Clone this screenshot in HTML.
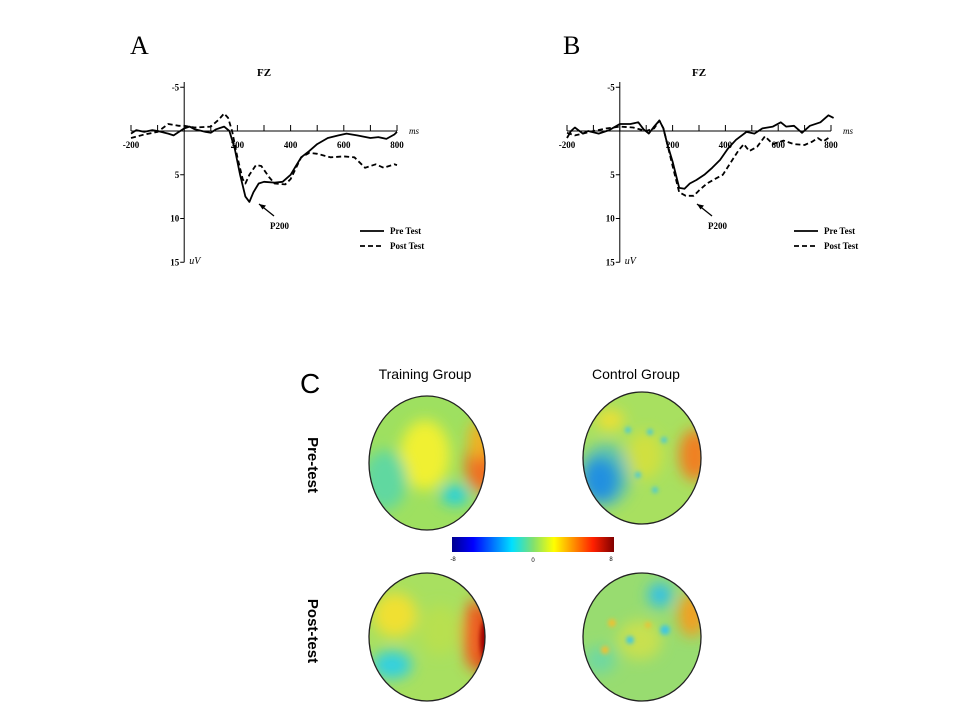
<!DOCTYPE html>
<html><head><meta charset="utf-8"><style>
html,body{margin:0;padding:0;background:#fff;width:960px;height:720px;overflow:hidden}
svg{display:block}
.s{font-family:"Liberation Serif",serif;fill:#000}
.a{font-family:"Liberation Sans","DejaVu Sans",sans-serif;fill:#000}
</style></head><body>
<svg id="v" width="960" height="720" xmlns="http://www.w3.org/2000/svg">
<defs>
<filter id="bl" x="-50%" y="-50%" width="200%" height="200%"><feGaussianBlur stdDeviation="7"/></filter>
<filter id="bs" x="-50%" y="-50%" width="200%" height="200%"><feGaussianBlur stdDeviation="2"/></filter>
<linearGradient id="cb" x1="0" x2="1">
<stop offset="0" stop-color="#00008f"/><stop offset="0.13" stop-color="#0000ff"/><stop offset="0.37" stop-color="#00e0ff"/><stop offset="0.5" stop-color="#80e070"/><stop offset="0.63" stop-color="#ffff00"/><stop offset="0.87" stop-color="#ff2000"/><stop offset="1" stop-color="#800000"/>
</linearGradient>
<clipPath id="c1"><ellipse cx="427" cy="463" rx="58" ry="67"/></clipPath>
<clipPath id="c2"><ellipse cx="642" cy="458" rx="59" ry="66"/></clipPath>
<clipPath id="c3"><ellipse cx="427" cy="637" rx="58" ry="64"/></clipPath>
<clipPath id="c4"><ellipse cx="642" cy="637" rx="59" ry="64"/></clipPath>
</defs>
<text x="130" y="54" class="s" font-size="26">A</text>
<text x="563" y="54" class="s" font-size="26">B</text>
<g id="pa"></g><g id="pb"></g>

<text x="300" y="393" class="a" font-size="28">C</text>
<text x="425" y="379" class="a" font-size="14" text-anchor="middle">Training Group</text>
<text x="636" y="379" class="a" font-size="14" text-anchor="middle">Control Group</text>
<text transform="translate(308,465) rotate(90)" class="a" font-size="15" font-weight="bold" text-anchor="middle">Pre-test</text>
<text transform="translate(308,631) rotate(90)" class="a" font-size="15" font-weight="bold" text-anchor="middle">Post-test</text>

<g clip-path="url(#c1)">
<rect x="360" y="390" width="140" height="150" fill="#9ee060"/>
<g filter="url(#bl)">
<ellipse cx="425" cy="455" rx="25" ry="35" fill="#f0f030"/>
<ellipse cx="483" cy="465" rx="18" ry="28" fill="#f07020"/>
<ellipse cx="480" cy="440" rx="12" ry="20" fill="#f0b020"/>
<ellipse cx="385" cy="480" rx="22" ry="30" fill="#60d8a0"/>
<ellipse cx="455" cy="495" rx="14" ry="10" fill="#20d0e0"/>
</g>
</g>
<ellipse cx="427" cy="463" rx="58" ry="67" fill="none" stroke="#222" stroke-width="1.3"/>

<g clip-path="url(#c2)">
<rect x="575" y="385" width="140" height="150" fill="#a8e060"/>
<g filter="url(#bl)">
<ellipse cx="600" cy="480" rx="18" ry="22" fill="#1060e0"/>
<ellipse cx="605" cy="475" rx="26" ry="32" fill="#30b0e0" opacity="0.6"/>
<ellipse cx="695" cy="455" rx="16" ry="26" fill="#f08020"/>
<ellipse cx="610" cy="420" rx="14" ry="10" fill="#f0e030"/>
<ellipse cx="645" cy="455" rx="18" ry="24" fill="#d0e040"/>
</g>
<g filter="url(#bs)" fill="#40c8e0">
<circle cx="628" cy="430" r="3"/><circle cx="650" cy="432" r="3"/><circle cx="664" cy="440" r="3"/><circle cx="638" cy="475" r="3"/><circle cx="655" cy="490" r="3"/>
</g>
</g>
<ellipse cx="642" cy="458" rx="59" ry="66" fill="none" stroke="#222" stroke-width="1.3"/>

<rect x="452" y="537" width="162" height="15" fill="url(#cb)"/>
<text x="453" y="561" class="a" font-size="6" text-anchor="middle">-8</text>
<text x="533" y="562" class="a" font-size="6" text-anchor="middle">0</text>
<text x="611" y="561" class="a" font-size="6" text-anchor="middle">8</text>

<g clip-path="url(#c3)">
<rect x="360" y="570" width="140" height="140" fill="#a8e060"/>
<g filter="url(#bl)">
<ellipse cx="485" cy="640" rx="14" ry="32" fill="#b01000"/>
<ellipse cx="475" cy="635" rx="12" ry="36" fill="#f06020"/>
<ellipse cx="395" cy="615" rx="22" ry="22" fill="#f0e030"/>
<ellipse cx="392" cy="665" rx="20" ry="14" fill="#30d0e0"/>
<ellipse cx="440" cy="630" rx="20" ry="25" fill="#b8e050"/>
</g>
<ellipse cx="486" cy="640" rx="6" ry="20" fill="#a00000" filter="url(#bs)"/>
</g>
<ellipse cx="427" cy="637" rx="58" ry="64" fill="none" stroke="#222" stroke-width="1.3"/>

<g clip-path="url(#c4)">
<rect x="575" y="570" width="140" height="140" fill="#98dc70"/>
<g filter="url(#bl)">
<ellipse cx="692" cy="615" rx="14" ry="22" fill="#f0a020"/>
<ellipse cx="660" cy="595" rx="12" ry="12" fill="#30c0e8"/>
<ellipse cx="600" cy="660" rx="16" ry="14" fill="#70d8a0"/>
<ellipse cx="640" cy="640" rx="22" ry="20" fill="#c8e050"/>
</g>
<g filter="url(#bs)">
<circle cx="612" cy="623" r="4" fill="#f0c030"/><circle cx="630" cy="640" r="4" fill="#40c8e0"/><circle cx="665" cy="630" r="5" fill="#40c8e0"/><circle cx="605" cy="650" r="4" fill="#f0c030"/><circle cx="648" cy="625" r="3" fill="#f0c030"/>
</g>
</g>
<ellipse cx="642" cy="637" rx="59" ry="64" fill="none" stroke="#222" stroke-width="1.3"/>
</svg>
<script>
var NS="http://www.w3.org/2000/svg";
function el(p,t,a,txt){var e=document.createElementNS(NS,t);for(var k in a)e.setAttribute(k,a[k]);if(txt!==undefined)e.textContent=txt;p.appendChild(e);return e;}
function panel(id,ax,x0,x1,pre,post,lx,p200){
 var g=document.getElementById(id);var y0=131,k=8.75;
 var X=function(ms){return x0+(ms+200)/1000*(x1-x0)};var Y=function(u){return y0+u*k};
 var cx=X(0);
 el(g,"text",{x:X(300),y:76,"class":"s","font-size":11,"font-weight":"bold","text-anchor":"middle"},"FZ");
 el(g,"line",{x1:cx,y1:82,x2:cx,y2:Y(15),stroke:"#000","stroke-width":1});
 el(g,"line",{x1:x0,y1:y0,x2:x1,y2:y0,stroke:"#000","stroke-width":1});
 for(var m=-200;m<=800;m+=100){el(g,"line",{x1:X(m),y1:y0-6,x2:X(m),y2:y0,stroke:"#000","stroke-width":1});}
 [-5,5,10,15].forEach(function(u){el(g,"line",{x1:cx-4,y1:Y(u),x2:cx,y2:Y(u),stroke:"#000"});
  el(g,"text",{x:cx-5,y:Y(u)+3,"class":"s","font-size":9,"text-anchor":"end","font-weight":"bold"},u);});
 [-200,200,400,600,800].forEach(function(m){el(g,"text",{x:X(m),y:148,"class":"s","font-size":9,"text-anchor":"middle","font-weight":"bold"},m);});
 el(g,"text",{x:x1+12,y:134,"class":"s","font-size":9,"font-style":"italic"},"ms");
 el(g,"text",{x:cx+5,y:264,"class":"s","font-size":10,"font-style":"italic"},"uV");
 function path(d,dash){var s="";d.forEach(function(p,i){s+=(i?"L":"M")+X(p[0]).toFixed(1)+","+Y(p[1]).toFixed(1);});
  var a={d:s,fill:"none",stroke:"#000","stroke-width":1.8,"stroke-linejoin":"round"};if(dash)a["stroke-dasharray"]="5,3";el(g,"path",a);}
 path(pre,false);path(post,true);
 el(g,"line",{x1:lx,y1:231,x2:lx+24,y2:231,stroke:"#000","stroke-width":1.8});
 el(g,"line",{x1:lx,y1:246,x2:lx+24,y2:246,stroke:"#000","stroke-width":1.8,"stroke-dasharray":"5,3"});
 el(g,"text",{x:lx+30,y:234,"class":"s","font-size":9,"font-weight":"bold"},"Pre  Test");
 el(g,"text",{x:lx+30,y:249,"class":"s","font-size":9,"font-weight":"bold"},"Post Test");
 el(g,"text",{x:p200[0],y:p200[1],"class":"s","font-size":9,"font-weight":"bold"},"P200");
 var ax1=p200[0]+4,ay1=p200[1]-13,ax2=ax1-15,ay2=ay1-12;
 el(g,"line",{x1:ax1,y1:ay1,x2:ax2,y2:ay2,stroke:"#000","stroke-width":1.3});
 el(g,"path",{d:"M"+ax2+","+ay2+"l7,1.5l-3.5,4z",fill:"#000"});
}
panel("pa",0,131,397,
[[-200,0.3],[-180,-0.1],[-150,0.1],[-120,-0.1],[-100,0],[-60,0.3],[-40,0.5],[-20,0.1],[0,-0.3],[20,-0.5],[40,-0.2],[80,0.1],[100,0.2],[120,-0.2],[150,-0.5],[170,0],[190,2],[210,5],[230,7.5],[245,8.1],[260,7],[280,6],[300,5.8],[340,5.9],[370,5.8],[400,5],[420,4],[440,3],[470,2.3],[500,1.5],[540,0.8],[580,0.5],[610,0.3],[650,0.5],[700,0.8],[730,0.7],[760,0.9],[790,0.4],[800,0.1]],
[[-200,0.8],[-150,0.4],[-100,0.1],[-60,-0.8],[-20,-0.6],[0,-0.6],[40,-0.4],[100,-0.5],[130,-1.3],[150,-2],[165,-1.5],[180,0],[200,3],[220,5.5],[230,6],[245,5],[270,3.9],[290,4],[320,5.3],[340,6],[380,6.1],[400,5.5],[440,3],[470,2.5],[500,2.6],[550,3],[600,2.9],[640,3],[680,4.2],[720,3.8],[750,4.2],[790,3.8],[800,3.9]],
360,[270,229]);
panel("pb",0,567,831,
[[-200,0.8],[-185,0],[-170,-0.4],[-140,0.3],[-120,0],[-80,0.3],[-40,-0.1],[0,-0.8],[40,-0.8],[70,-1],[90,-0.2],[110,0.3],[130,-0.5],[150,-1.2],[165,-0.3],[180,1.5],[200,3.5],[225,6.5],[245,6.6],[265,6],[290,5.6],[320,5],[350,4.2],[380,3.3],[410,2],[440,1],[480,0.1],[510,0.3],[540,-0.3],[580,-0.5],[610,-1],[630,-0.5],[660,-0.6],[690,0.2],[720,-0.6],[760,-1],[790,-1.8],[810,-1.5]],
[[-200,0.2],[-170,0.5],[-140,0.3],[-100,0],[-50,-0.3],[0,-0.5],[50,-0.4],[100,0],[130,-0.3],[150,-1.2],[165,-0.3],[180,1.5],[200,4],[225,7],[250,7.4],[280,7.4],[300,6.8],[330,6],[360,5.5],[390,5],[420,3.6],[450,2.2],[470,1.5],[490,2.3],[520,1.8],[550,0.6],[580,1.5],[620,1.1],[660,1.5],[700,1.6],[730,1.2],[750,0.8],[770,1.2],[790,0.8]],
794,[708,229]);
</script>
</body></html>
